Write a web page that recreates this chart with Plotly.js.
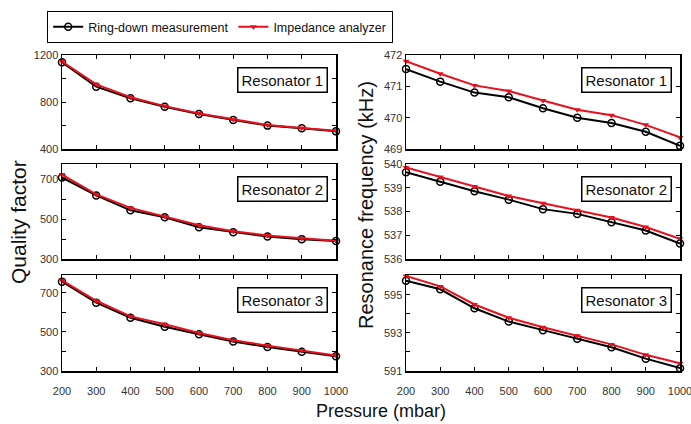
<!DOCTYPE html>
<html><head><meta charset="utf-8">
<script src="https://cdn.plot.ly/plotly-3.0.1.min.js"></script>
<style>html,body{margin:0;padding:0;background:#fff}#c{width:691px;height:424px}</style>
</head><body><div id="c"></div>
<script>
const pressure = [200,300,400,500,600,700,800,900,1000];
const seriesNames = ["Ring-down measurement","Impedance analyzer"];
const panelLabels = ["Resonator 1","Resonator 2","Resonator 3"];
// Quality factor
const q1Ring = [1138,930,831,760,698,647,599,576,550];
const q1Imp  = [1145,950,840,765,702,652,605,579,555];
const q2Ring = [710,620,545,510,460,435,413,400,390];
const q2Imp  = [725,625,557,515,470,440,418,405,392];
const q3Ring = [758,650,573,527,488,451,423,399,376];
const q3Imp  = [765,660,580,540,495,458,430,405,380];
// Resonance frequency (kHz)
const f1Ring = [471.55,471.15,470.8,470.65,470.3,470.0,469.83,469.55,469.1];
const f1Imp  = [471.8,471.4,471.03,470.85,470.55,470.25,470.08,469.77,469.37];
const f2Ring = [539.65,539.25,538.85,538.5,538.1,537.9,537.55,537.2,536.65];
const f2Imp  = [539.85,539.45,539.05,538.65,538.35,538.05,537.75,537.35,536.85];
const f3Ring = [595.75,595.3,594.3,593.6,593.15,592.7,592.25,591.65,591.15];
const f3Imp  = [596.0,595.45,594.5,593.8,593.3,592.85,592.4,591.85,591.4];
const xTicks = [200,300,400,500,600,700,800,900,1000];

const W=691,H=424;
const colX = [[62,336],[406,680]];
const rowY = [[55,149],[164,259],[275,371]];
const yRanges = [[400,1200],[300,778],[300,792],[469,472],[536,540],[591,596.05]];
const yTickVals = [[400,600,800,1000,1200],[300,400,500,600,700],[300,400,500,600,700],[469,470,471,472],[536,537,538,539,540],[591,592,593,594,595,596]];
const yTickText = [["400","","800","","1200"],["300","","500","","700"],["300","","500","","700"],["469","470","471","472"],["536","537","538","539","540"],["591","","593","","595",""]];
const ringData = [q1Ring,q2Ring,q3Ring,f1Ring,f2Ring,f3Ring];
const impData = [q1Imp,q2Imp,q3Imp,f1Imp,f2Imp,f3Imp];

const RED = "#e8101c";
const traces = [];
const layout = {
  width:W,height:H,margin:{l:0,r:0,t:0,b:0},
  paper_bgcolor:"#fff",plot_bgcolor:"#fff",
  font:{family:"Arial, 'Liberation Sans', sans-serif",color:"#000"},
  showlegend:true,
  legend:{orientation:"h",x:47/W,y:1-11/H,xanchor:"left",yanchor:"top",
    bordercolor:"#000",borderwidth:1.2,bgcolor:"#fff",font:{size:12.5,color:"#111"},
    itemwidth:30,tracegroupgap:0},
  annotations:[],
};
for(let i=0;i<6;i++){
  const col = i<3?0:1, row=i%3;
  const n = i+1;
  const xa = "xaxis"+(n===1?"":n), ya="yaxis"+(n===1?"":n);
  const xr = "x"+(n===1?"":n), yr="y"+(n===1?"":n);
  layout[xa] = {domain:[colX[col][0]/W,colX[col][1]/W],anchor:yr,range:[200,1000],
    tickvals:xTicks,ticks:"inside",ticklen:4,tickcolor:"#000",mirror:"ticks",
    showline:true,linecolor:"#000",linewidth:1.5,showgrid:false,zeroline:false,
    showticklabels:row===2,tickfont:{size:11,color:"#333"},ticklabelstandoff:9,
    ticklabeloverflow:"allow",automargin:false};
  layout[ya] = {domain:[1-rowY[row][1]/H,1-rowY[row][0]/H],anchor:xr,range:yRanges[i],
    tickvals:yTickVals[i],ticktext:yTickText[i],ticks:"inside",ticklen:4,tickcolor:"#000",mirror:"ticks",
    showline:true,linecolor:"#000",linewidth:1.5,showgrid:false,zeroline:false,
    tickfont:{size:11,color:"#333"},ticklabeloverflow:"allow",automargin:false};
  traces.push({x:pressure,y:ringData[i],xaxis:xr,yaxis:yr,mode:"lines+markers",name:seriesNames[0],
    showlegend:i===0,line:{color:"#000",width:2},cliponaxis:false,
    marker:{symbol:"circle-open",size:7,color:"#000",line:{width:1.5,color:"#000"}}});
  traces.push({x:pressure,y:impData[i],xaxis:xr,yaxis:yr,mode:"lines+markers",name:seriesNames[1],
    showlegend:i===0,line:{color:RED,width:2},cliponaxis:false,
    marker:{symbol:"triangle-down",size:6,color:RED}});
  layout.annotations.push({text:panelLabels[row],xref:xr+" domain",yref:yr+" domain",
    x:1-8/274,y:1-12/94,xanchor:"right",yanchor:"top",showarrow:false,
    font:{size:15,color:"#111"},bordercolor:"#000",borderwidth:1.5,borderpad:3,bgcolor:"#fff"});
}
layout.annotations.push({text:"Quality factor",xref:"paper",yref:"paper",x:18/W,y:1-222/H,
  textangle:-90,showarrow:false,font:{size:21,color:"#111"},xanchor:"center",yanchor:"middle"});
layout.annotations.push({text:"Resonance frequency (kHz)",xref:"paper",yref:"paper",x:366/W,y:1-205/H,
  textangle:-90,showarrow:false,font:{size:20,color:"#111"},xanchor:"center",yanchor:"middle"});
layout.annotations.push({text:"Pressure (mbar)",xref:"paper",yref:"paper",x:381/W,y:1-411/H,
  showarrow:false,font:{size:18,color:"#111"},xanchor:"center",yanchor:"middle"});
Plotly.newPlot("c",traces,layout,{displayModeBar:false,staticPlot:true});
</script></body></html>
